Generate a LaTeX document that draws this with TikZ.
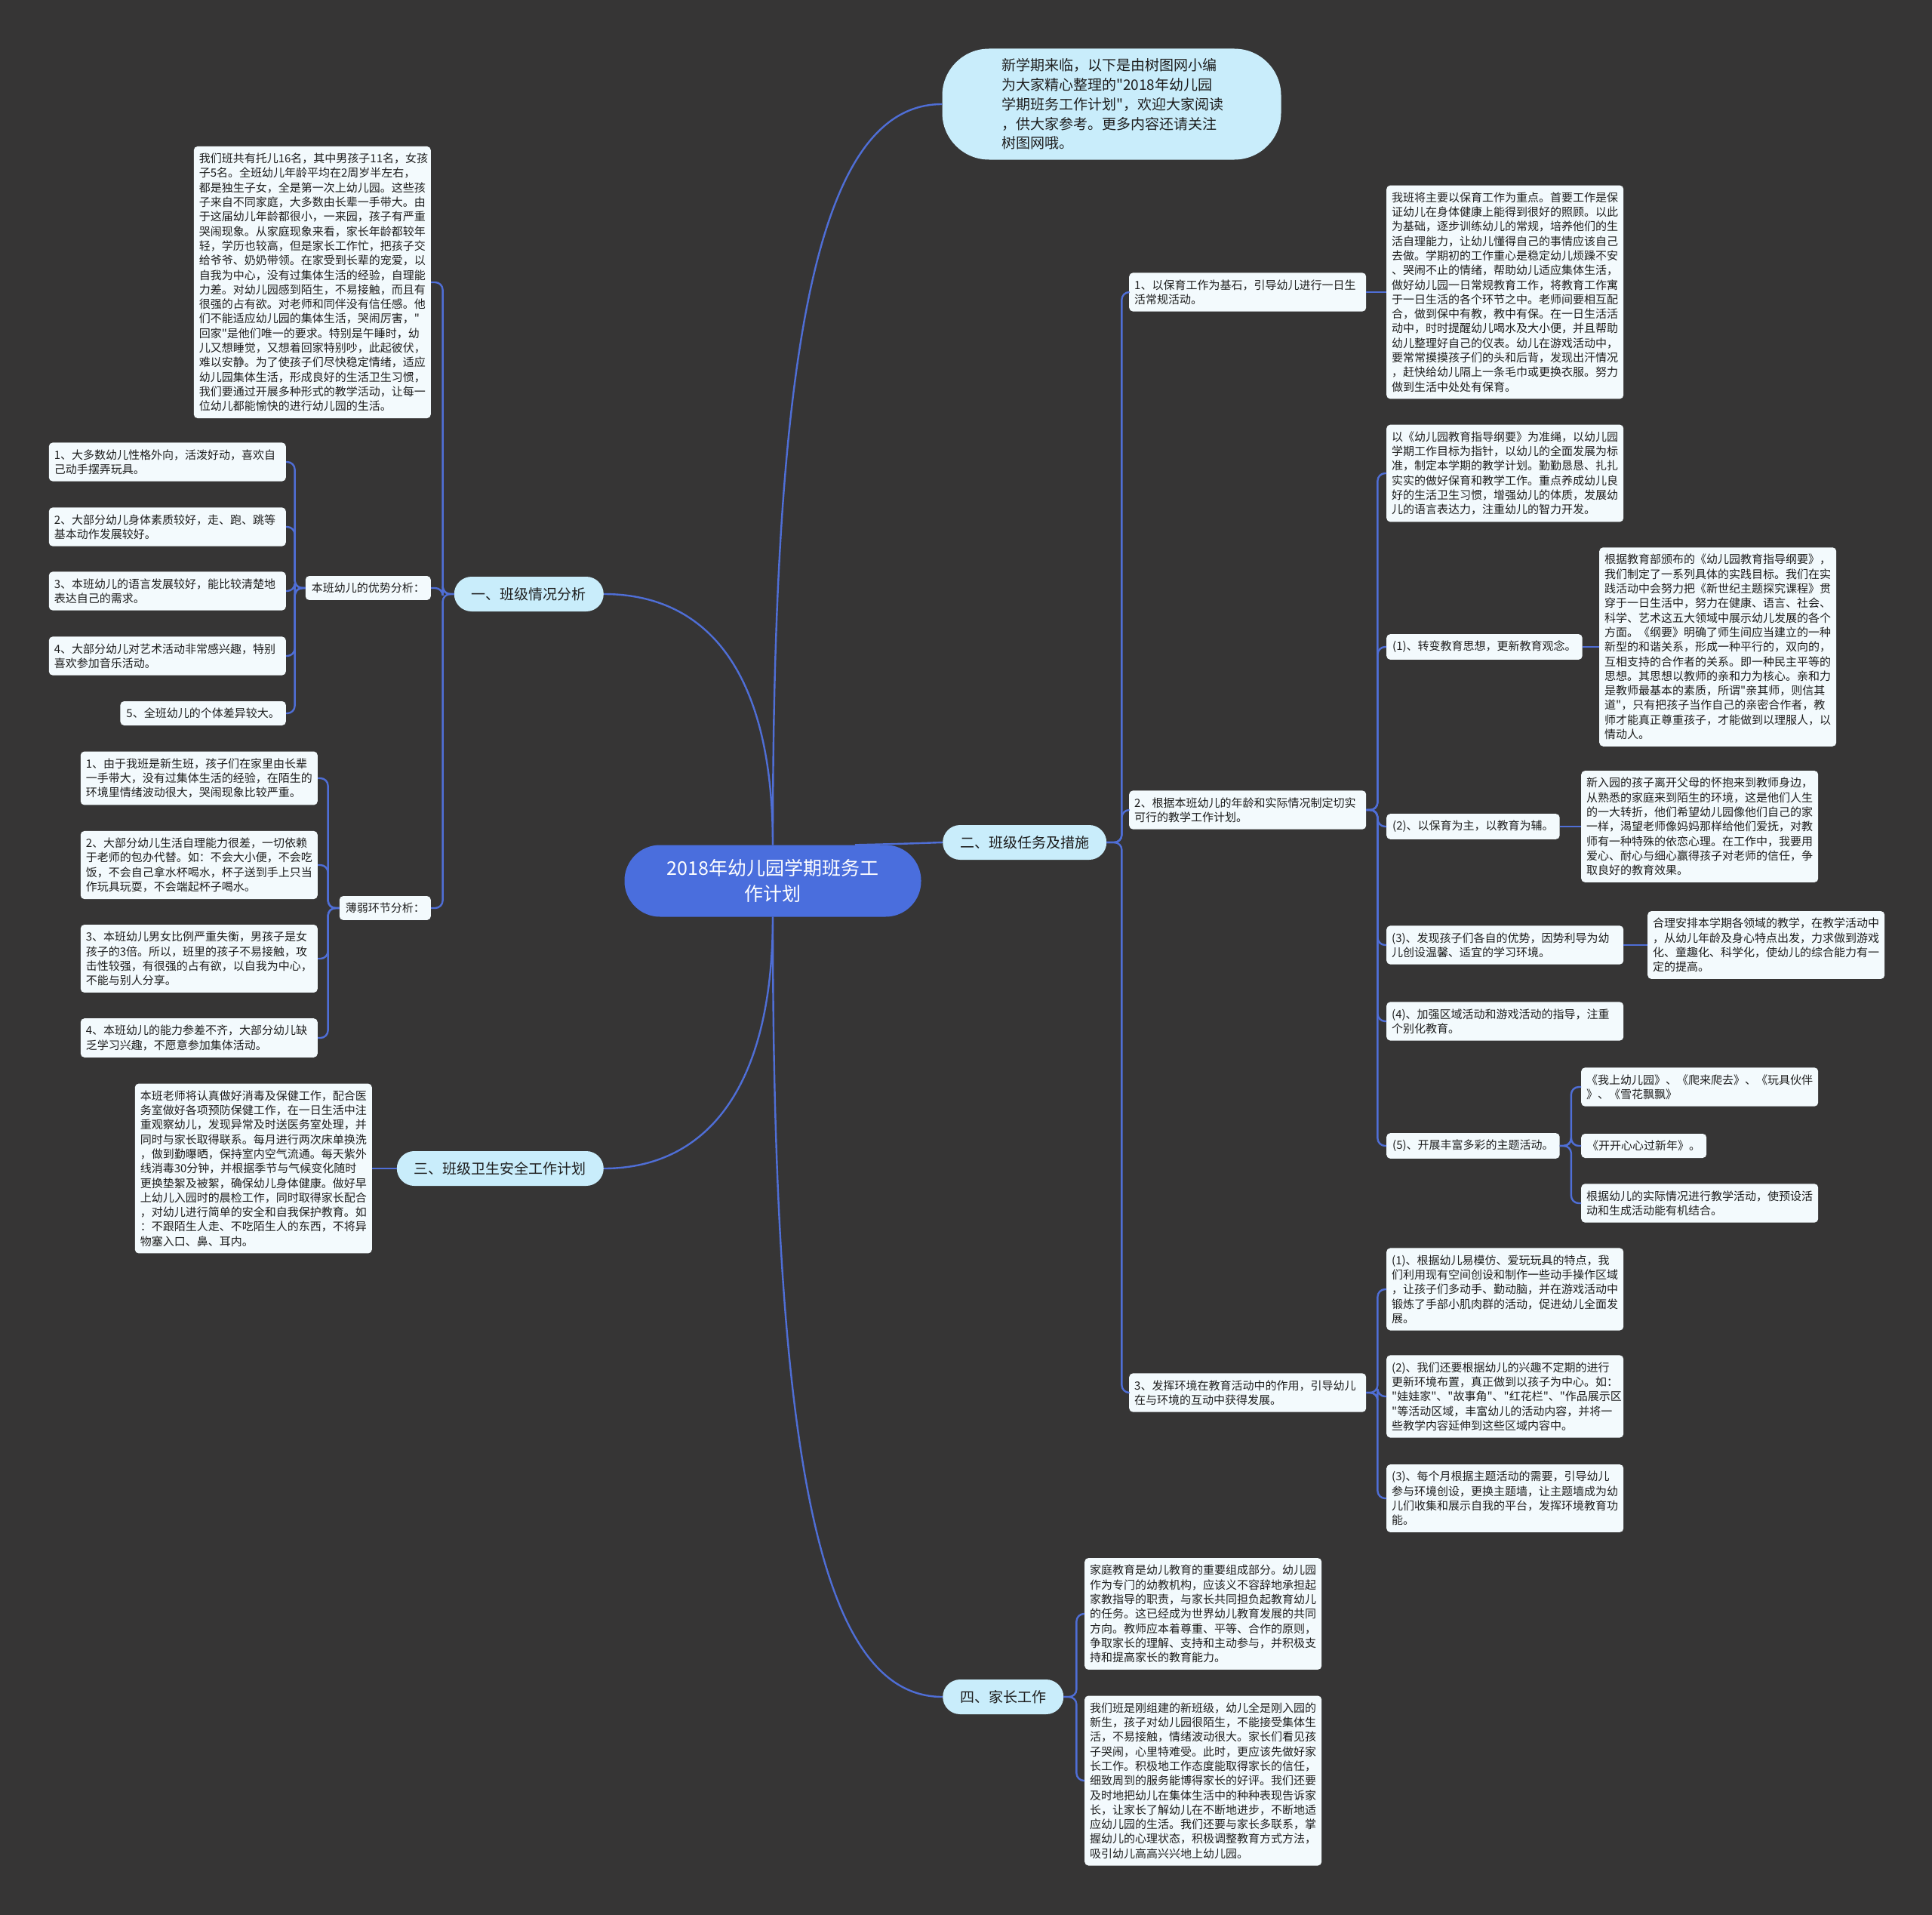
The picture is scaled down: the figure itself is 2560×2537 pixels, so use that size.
\documentclass[tikz,border=0pt]{standalone}
\usepackage{fontspec}
\setmainfont{Noto Sans CJK SC}[Ligatures=TeXOff]
\usepackage{tikz}
\definecolor{bgdark}{HTML}{363535}
\definecolor{leafwhite}{HTML}{F3FAFD}
\definecolor{branchblue}{HTML}{C9EDFB}
\definecolor{rootblue}{HTML}{4A6EDD}
\definecolor{linkblue}{HTML}{4F6ED6}
\definecolor{inkdark}{HTML}{1E1E1E}
\tikzstyle{leafbox} = [rectangle, rounded corners=5pt, fill=leafwhite, text=inkdark, text width=300pt, align=left, inner xsep=7pt, inner ysep=9pt, font=\fontsize{15pt}{19.3pt}\selectfont]
\tikzstyle{tagbox} = [rectangle, rounded corners=5pt, fill=leafwhite, text=inkdark, inner xsep=8pt, inner ysep=9pt, font=\fontsize{15pt}{19.3pt}\selectfont]
\tikzstyle{branchbox} = [rectangle, rounded corners=23pt, fill=branchblue, text=inkdark, minimum height=46pt, inner xsep=23pt, font=\fontsize{19pt}{24pt}\selectfont]
\tikzstyle{rootbox} = [rectangle, rounded corners=47pt, fill=rootblue, text=white, minimum width=393pt, minimum height=95pt, align=center, font=\fontsize{25pt}{34pt}\selectfont]
\tikzstyle{introbox} = [rectangle, rounded corners=62pt, fill=branchblue, text=inkdark, minimum width=449pt, minimum height=147pt, text width=292pt, align=left, font=\fontsize{19pt}{25.8pt}\selectfont]
\tikzstyle{conn} = [draw=linkblue, line width=2.4pt]
\tikzstyle{bracket} = [conn, rounded corners=10pt]

\begin{document}
\begin{tikzpicture}[x=1pt, y=-1pt]

  \fill [bgdark] (0,0) rectangle (2560,2537);
  \useasboundingbox (0,0) rectangle (2560,2537);

  % centre and main branches
  \node (root) [rootbox] at (1024,1167) {2018年幼儿园学期班务工\\作计划};
  \node (intro) [introbox] at (1473,138) {新学期来临，以下是由树图网小编\\为大家精心整理的"2018年幼儿园\\学期班务工作计划"，欢迎大家阅读\\，供大家参考。更多内容还请关注\\树图网哦。};
  \node (b1) [branchbox, anchor=east] at (800,787) {一、班级情况分析};
  \node (b2) [branchbox, anchor=west] at (1249,1116) {二、班级任务及措施};
  \node (b3) [branchbox, anchor=east] at (800,1548) {三、班级卫生安全工作计划};
  \node (b4) [branchbox, anchor=west] at (1249,2248) {四、家长工作};

  % branch 1
  \node (txtA) [leafbox, anchor=east] at (571,374) {我们班共有托儿16名，其中男孩子11名，女孩\\子5名。全班幼儿年龄平均在2周岁半左右，\\都是独生子女，全是第一次上幼儿园。这些孩\\子来自不同家庭，大多数由长辈一手带大。由\\于这届幼儿年龄都很小，一来园，孩子有严重\\哭闹现象。从家庭现象来看，家长年龄都较年\\轻，学历也较高，但是家长工作忙，把孩子交\\给爷爷、奶奶带领。在家受到长辈的宠爱，以\\自我为中心，没有过集体生活的经验，自理能\\力差。对幼儿园感到陌生，不易接触，而且有\\很强的占有欲。对老师和同伴没有信任感。他\\们不能适应幼儿园的集体生活，哭闹厉害，"\\回家"是他们唯一的要求。特别是午睡时，幼\\儿又想睡觉，又想着回家特别吵，此起彼伏，\\难以安静。为了使孩子们尽快稳定情绪，适应\\幼儿园集体生活，形成良好的生活卫生习惯，\\我们要通过开展多种形式的教学活动，让每一\\位幼儿都能愉快的进行幼儿园的生活。};
  \node (adv) [tagbox, anchor=east] at (571,779) {本班幼儿的优势分析：};
  \node (a1) [leafbox, anchor=east] at (379,612) {1、大多数幼儿性格外向，活泼好动，喜欢自\\己动手摆弄玩具。};
  \node (a2) [leafbox, anchor=east] at (379,698) {2、大部分幼儿身体素质较好，走、跑、跳等\\基本动作发展较好。};
  \node (a3) [leafbox, anchor=east] at (379,783) {3、本班幼儿的语言发展较好，能比较清楚地\\表达自己的需求。};
  \node (a4) [leafbox, anchor=east] at (379,869) {4、大部分幼儿对艺术活动非常感兴趣，特别\\喜欢参加音乐活动。};
  \node (a5) [tagbox, anchor=east] at (379,945) {5、全班幼儿的个体差异较大。};
  \node (weak) [tagbox, anchor=east] at (571,1203) {薄弱环节分析：};
  \node (w1) [leafbox, anchor=east] at (421,1031) {1、由于我班是新生班，孩子们在家里由长辈\\一手带大，没有过集体生活的经验，在陌生的\\环境里情绪波动很大，哭闹现象比较严重。};
  \node (w2) [leafbox, anchor=east] at (421,1146) {2、大部分幼儿生活自理能力很差，一切依赖\\于老师的包办代替。如：不会大小便，不会吃\\饭，不会自己拿水杯喝水，杯子送到手上只当\\作玩具玩耍，不会端起杯子喝水。};
  \node (w3) [leafbox, anchor=east] at (421,1270) {3、本班幼儿男女比例严重失衡，男孩子是女\\孩子的3倍。所以，班里的孩子不易接触，攻\\击性较强，有很强的占有欲，以自我为中心，\\不能与别人分享。};
  \node (w4) [leafbox, anchor=east] at (421,1375) {4、本班幼儿的能力参差不齐，大部分幼儿缺\\乏学习兴趣，不愿意参加集体活动。};

  % branch 3
  \node (safety) [leafbox, anchor=east] at (493,1548) {本班老师将认真做好消毒及保健工作，配合医\\务室做好各项预防保健工作，在一日生活中注\\重观察幼儿，发现异常及时送医务室处理，并\\同时与家长取得联系。每月进行两次床单换洗\\，做到勤曝晒，保持室内空气流通。每天紫外\\线消毒30分钟，并根据季节与气候变化随时\\更换垫絮及被絮，确保幼儿身体健康。做好早\\上幼儿入园时的晨检工作，同时取得家长配合\\，对幼儿进行简单的安全和自我保护教育。如\\：不跟陌生人走、不吃陌生人的东西，不将异\\物塞入口、鼻、耳内。};

  % branch 2
  \node (r1) [leafbox, anchor=west] at (1496,387) {1、以保育工作为基石，引导幼儿进行一日生\\活常规活动。};
  \node (r1txt) [leafbox, anchor=west] at (1837,387) {我班将主要以保育工作为重点。首要工作是保\\证幼儿在身体健康上能得到很好的照顾。以此\\为基础，逐步训练幼儿的常规，培养他们的生\\活自理能力，让幼儿懂得自己的事情应该自己\\去做。学期初的工作重心是稳定幼儿烦躁不安\\、哭闹不止的情绪，帮助幼儿适应集体生活，\\做好幼儿园一日常规教育工作，将教育工作寓\\于一日生活的各个环节之中。老师间要相互配\\合，做到保中有教，教中有保。在一日生活活\\动中，时时提醒幼儿喝水及大小便，并且帮助\\幼儿整理好自己的仪表。幼儿在游戏活动中，\\要常常摸摸孩子们的头和后背，发现出汗情况\\，赶快给幼儿隔上一条毛巾或更换衣服。努力\\做到生活中处处有保育。};
  \node (r2) [leafbox, anchor=west] at (1496,1073) {2、根据本班幼儿的年龄和实际情况制定切实\\可行的教学工作计划。};
  \node (r2txt) [leafbox, anchor=west] at (1837,627) {以《幼儿园教育指导纲要》为准绳，以幼儿园\\学期工作目标为指针，以幼儿的全面发展为标\\准，制定本学期的教学计划。勤勤恳恳、扎扎\\实实的做好保育和教学工作。重点养成幼儿良\\好的生活卫生习惯，增强幼儿的体质，发展幼\\儿的语言表达力，注重幼儿的智力开发。};
  \node (s1) [tagbox, anchor=west] at (1837,857) {(1)、转变教育思想，更新教育观念。};
  \node (s1txt) [leafbox, anchor=west] at (2119,857) {根据教育部颁布的《幼儿园教育指导纲要》，\\我们制定了一系列具体的实践目标。我们在实\\践活动中会努力把《新世纪主题探究课程》贯\\穿于一日生活中，努力在健康、语言、社会、\\科学、艺术这五大领域中展示幼儿发展的各个\\方面。《纲要》明确了师生间应当建立的一种\\新型的和谐关系，形成一种平行的，双向的，\\互相支持的合作者的关系。即一种民主平等的\\思想。其思想以教师的亲和力为核心。亲和力\\是教师最基本的素质，所谓"亲其师，则信其\\道"，只有把孩子当作自己的亲密合作者，教\\师才能真正尊重孩子，才能做到以理服人，以\\情动人。};
  \node (s2) [tagbox, anchor=west] at (1837,1095) {(2)、以保育为主，以教育为辅。};
  \node (s2txt) [leafbox, anchor=west] at (2095,1095) {新入园的孩子离开父母的怀抱来到教师身边，\\从熟悉的家庭来到陌生的环境，这是他们人生\\的一大转折，他们希望幼儿园像他们自己的家\\一样，渴望老师像妈妈那样给他们爱抚，对教\\师有一种特殊的依恋心理。在工作中，我要用\\爱心、耐心与细心赢得孩子对老师的信任，争\\取良好的教育效果。};
  \node (s3) [leafbox, anchor=west] at (1837,1252) {(3)、发现孩子们各自的优势，因势利导为幼\\儿创设温馨、适宜的学习环境。};
  \node (s3txt) [leafbox, anchor=west] at (2183,1252) {合理安排本学期各领域的教学，在教学活动中\\，从幼儿年龄及身心特点出发，力求做到游戏\\化、童趣化、科学化，使幼儿的综合能力有一\\定的提高。};
  \node (s4) [leafbox, anchor=west] at (1837,1353) {(4)、加强区域活动和游戏活动的指导，注重\\个别化教育。};
  \node (s5) [tagbox, anchor=west] at (1837,1518) {(5)、开展丰富多彩的主题活动。};
  \node (t1) [leafbox, anchor=west] at (2095,1440) {《我上幼儿园》、《爬来爬去》、《玩具伙伴\\》、《雪花飘飘》};
  \node (t2) [tagbox, anchor=west] at (2095,1518) {《开开心心过新年》。};
  \node (t3) [leafbox, anchor=west] at (2095,1594) {根据幼儿的实际情况进行教学活动，使预设活\\动和生成活动能有机结合。};
  \node (r3) [leafbox, anchor=west] at (1496,1845) {3、发挥环境在教育活动中的作用，引导幼儿\\在与环境的互动中获得发展。};
  \node (e1) [leafbox, anchor=west] at (1837,1708) {(1)、根据幼儿易模仿、爱玩玩具的特点，我\\们利用现有空间创设和制作一些动手操作区域\\，让孩子们多动手、勤动脑，并在游戏活动中\\锻炼了手部小肌肉群的活动，促进幼儿全面发\\展。};
  \node (e2) [leafbox, anchor=west] at (1837,1850) {(2)、我们还要根据幼儿的兴趣不定期的进行\\更新环境布置，真正做到以孩子为中心。如：\\"娃娃家"、"故事角"、"红花栏"、"作品展示区\\"等活动区域，丰富幼儿的活动内容，并将一\\些教学内容延伸到这些区域内容中。};
  \node (e3) [leafbox, anchor=west] at (1837,1985) {(3)、每个月根据主题活动的需要，引导幼儿\\参与环境创设，更换主题墙，让主题墙成为幼\\儿们收集和展示自我的平台，发挥环境教育功\\能。};

  % branch 4
  \node (f1) [leafbox, anchor=west] at (1437,2138) {家庭教育是幼儿教育的重要组成部分。幼儿园\\作为专门的幼教机构，应该义不容辞地承担起\\家教指导的职责，与家长共同担负起教育幼儿\\的任务。这已经成为世界幼儿教育发展的共同\\方向。教师应本着尊重、平等、合作的原则，\\争取家长的理解、支持和主动参与，并积极支\\持和提高家长的教育能力。};
  \node (f2) [leafbox, anchor=west] at (1437,2359) {我们班是刚组建的新班级，幼儿全是刚入园的\\新生，孩子对幼儿园很陌生，不能接受集体生\\活，不易接触，情绪波动很大。家长们看见孩\\子哭闹，心里特难受。此时，更应该先做好家\\长工作。积极地工作态度能取得家长的信任，\\细致周到的服务能博得家长的好评。我们还要\\及时地把幼儿在集体生活中的种种表现告诉家\\长，让家长了解幼儿在不断地进步，不断地适\\应幼儿园的生活。我们还要与家长多联系，掌\\握幼儿的心理状态，积极调整教育方式方法，\\吸引幼儿高高兴兴地上幼儿园。};

  % curves from the centre
  \draw [conn] (root.north) .. controls (1024,430) and (1090,138) .. (intro.west);
  \draw [conn] (root.north) .. controls (1024,880) and (930,787) .. (b1.east);
  \draw [conn] ([xshift=109pt]root.north) .. controls (1190,1118) .. (b2.west);
  \draw [conn] (root.south) .. controls (1024,1450) and (930,1548) .. (b3.east);
  \draw [conn] (root.south) .. controls (1024,1950) and (1090,2248) .. (b4.west);

  % brackets
  \draw [bracket] (b1.west) -- ++(-15,0) |- (txtA.east);
  \draw [bracket] (b1.west) -- ++(-15,0) |- (adv.east);
  \draw [bracket] (b1.west) -- ++(-15,0) |- (weak.east);
  \draw [bracket] (adv.west) -- ++(-14,0) |- (a1.east);
  \draw [bracket] (adv.west) -- ++(-14,0) |- (a2.east);
  \draw [bracket] (adv.west) -- ++(-14,0) |- (a3.east);
  \draw [bracket] (adv.west) -- ++(-14,0) |- (a4.east);
  \draw [bracket] (adv.west) -- ++(-14,0) |- (a5.east);
  \draw [bracket] (weak.west) -- ++(-15,0) |- (w1.east);
  \draw [bracket] (weak.west) -- ++(-15,0) |- (w2.east);
  \draw [bracket] (weak.west) -- ++(-15,0) |- (w3.east);
  \draw [bracket] (weak.west) -- ++(-15,0) |- (w4.east);
  \draw [conn] (b3.west) -- (safety.east);

  \draw [bracket] (b2.east) -- ++(20,0) |- (r1.west);
  \draw [bracket] (b2.east) -- ++(20,0) |- (r2.west);
  \draw [bracket] (b2.east) -- ++(20,0) |- (r3.west);
  \draw [conn] (r1.east) -- (r1txt.west);
  \draw [bracket] (r2.east) -- ++(15,0) |- (r2txt.west);
  \draw [bracket] (r2.east) -- ++(15,0) |- (s1.west);
  \draw [bracket] (r2.east) -- ++(15,0) |- (s2.west);
  \draw [bracket] (r2.east) -- ++(15,0) |- (s3.west);
  \draw [bracket] (r2.east) -- ++(15,0) |- (s4.west);
  \draw [bracket] (r2.east) -- ++(15,0) |- (s5.west);
  \draw [conn] (s1.east) -- (s1txt.west);
  \draw [conn] (s2.east) -- (s2txt.west);
  \draw [conn] (s3.east) -- (s3txt.west);
  \draw [bracket] (s5.east) -- ++(15,0) |- (t1.west);
  \draw [bracket] (s5.east) -- ++(15,0) |- (t2.west);
  \draw [bracket] (s5.east) -- ++(15,0) |- (t3.west);
  \draw [bracket] (r3.east) -- ++(15,0) |- (e1.west);
  \draw [bracket] (r3.east) -- ++(15,0) |- (e2.west);
  \draw [bracket] (r3.east) -- ++(15,0) |- (e3.west);
  \draw [bracket] (b4.east) -- ++(17,0) |- (f1.west);
  \draw [bracket] (b4.east) -- ++(17,0) |- (f2.west);

\end{tikzpicture}
\end{document}
